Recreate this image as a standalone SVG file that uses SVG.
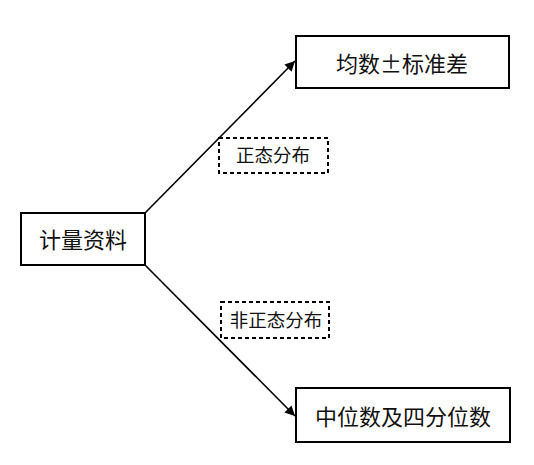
<svg xmlns="http://www.w3.org/2000/svg" width="534" height="465" viewBox="0 0 534 465">
<defs>
<style>
.box{fill:#fff;stroke:#000;stroke-width:2}
.dash{fill:#fff;stroke:#000;stroke-width:2;stroke-dasharray:4 3}
.t{font-family:"Noto Sans CJK SC","Noto Sans",sans-serif;font-size:22px;fill:#111;text-anchor:middle;dominant-baseline:central}
.s{font-size:18.5px}
.ln{stroke:#000;stroke-width:1.6;fill:none}
</style>
<marker id="ah" viewBox="0 0 10 10" refX="10" refY="5" markerWidth="10" markerHeight="10" markerUnits="userSpaceOnUse" orient="auto">
<path d="M0,0 L10,5 L0,10 z" fill="#000"/>
</marker>
</defs>
<rect width="534" height="465" fill="#fff"/>
<g id="connectors">
<line class="ln" x1="145" y1="213" x2="295" y2="61" marker-end="url(#ah)"/>
<line class="ln" x1="145" y1="265" x2="295" y2="416" marker-end="url(#ah)"/>
</g>
<g id="n-source">
<rect class="box" x="21" y="213" width="124" height="52"/>
<text class="t" x="83" y="238">计量资料</text>
</g>
<g id="n-mean">
<rect class="box" x="296" y="36" width="213" height="52"/>
<text class="t" x="402" y="62">均数±标准差</text>
</g>
<g id="n-median">
<rect class="box" x="296" y="388" width="214" height="54"/>
<text class="t" x="403" y="415">中位数及四分位数</text>
</g>
<g id="n-normal">
<rect class="dash" x="219" y="138" width="109" height="35"/>
<text class="t s" x="273" y="154">正态分布</text>
</g>
<g id="n-nonnormal">
<rect class="dash" x="221" y="302" width="108" height="36"/>
<text class="t s" x="276" y="319">非正态分布</text>
</g>
</svg>
